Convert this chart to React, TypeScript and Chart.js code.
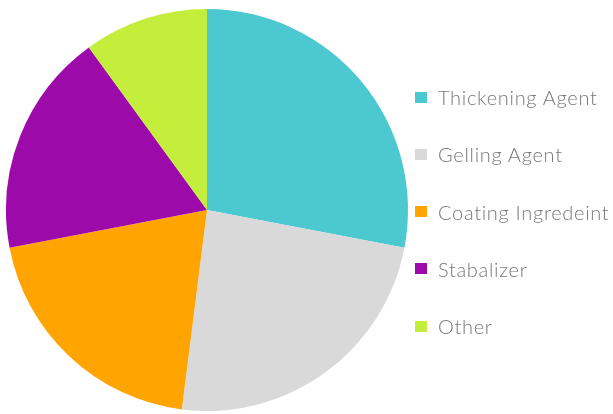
import React, { useEffect, useRef } from "react";
import { Chart, registerables } from "chart.js";

Chart.register(...registerables);

const categories = ["Thickening Agent", "Gelling Agent", "Coating Ingredeint", "Stabalizer", "Other"];
const shares = [28, 24, 20, 18, 10];
const sliceColors = ["#4cc8d0", "#d9d9d9", "#ffa400", "#9c0aaa", "#c4ee3c"];

export default function App() {
  const ref = useRef<HTMLCanvasElement | null>(null);

  useEffect(() => {
    if (!ref.current) return;
    const chart = new Chart(ref.current, {
      type: "pie",
      data: {
        labels: categories,
        datasets: [
          {
            data: shares,
            backgroundColor: sliceColors,
            borderWidth: 0,
          },
        ],
      },
      options: {
        responsive: false,
        animation: false,
        layout: { padding: { left: 6, top: 9, right: 205, bottom: 3 } },
        plugins: {
          legend: { display: false },
          tooltip: { enabled: false },
        },
      },
    });
    return () => chart.destroy();
  }, []);

  const legendTop = 97;
  const legendStep = 57.3;

  return (
    <div style={{ position: "fixed", left: 0, top: 0, width: 613, height: 414, background: "#fff" }}>
      <canvas ref={ref} width={613} height={414} style={{ position: "absolute", left: 0, top: 0 }} />
      {categories.map((c, i) => (
        <div
          key={c}
          style={{
            position: "absolute",
            left: 415,
            top: legendTop + i * legendStep - 12,
            height: 24,
            display: "flex",
            alignItems: "center",
            whiteSpace: "nowrap",
            fontFamily: "Lato, 'Open Sans', sans-serif",
            fontWeight: 300,
            fontSize: 20,
            letterSpacing: 0.7,
            color: "#777",
          }}
        >
          <span style={{ display: "inline-block", width: 12, height: 11, background: sliceColors[i], marginRight: 11 }} />
          <span>{c}</span>
        </div>
      ))}
    </div>
  );
}
